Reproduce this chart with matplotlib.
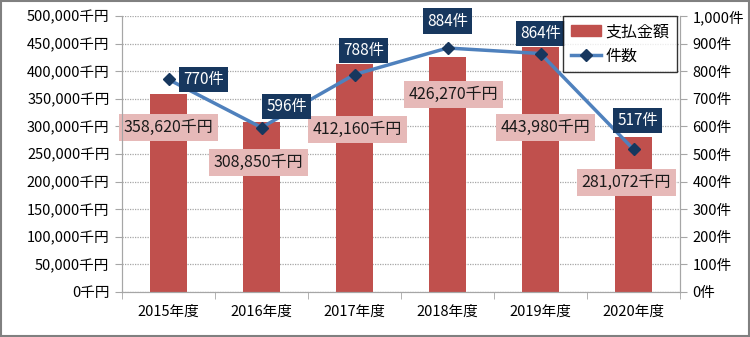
import matplotlib
matplotlib.use("Agg")
import matplotlib.pyplot as plt
from matplotlib.patches import Rectangle
from matplotlib.ticker import FuncFormatter, MultipleLocator

plt.rcParams['font.family'] = ['Noto Sans CJK JP', 'DejaVu Sans']

categories = ["2015年度", "2016年度", "2017年度", "2018年度", "2019年度", "2020年度"]
amounts = [358620, 308850, 412160, 426270, 443980, 281072]   # 千円
counts = [770, 596, 788, 884, 864, 517]                       # 件

# label placement (layout only)
amount_label_y = [298000, 234500, 294500, 358000, 298000, 198000]
amount_label_dx = [0, -3, 3, 6, 5, -7]
count_label_off = [(35, 0), (25, 21), (9, 24), (0, 27), (0, 20), (4, 29)]

BAR = "#C0504D"
LINE = "#4F81BD"
NAVY = "#17375E"
PINK = "#E6B9B8"
GRID = "#A6A6A6"

fig = plt.figure(figsize=(7.5, 3.37), dpi=100)
fig.patches.append(Rectangle((0.0015, 0.003), 0.997, 0.994, transform=fig.transFigure,
                             fill=False, edgecolor="#808080", linewidth=1.5))
ax = fig.add_axes([122/750, 1-292/337, (680-122)/750, (292-16)/337])
ax2 = ax.twinx()

x = list(range(len(categories)))
ax.bar(x, amounts, width=0.4, color=BAR, zorder=2)
ax.set_xlim(-0.5, len(categories)-0.5)
ax.set_ylim(0, 500000)
ax.yaxis.set_major_locator(MultipleLocator(50000))
ax.yaxis.set_major_formatter(FuncFormatter(lambda v, p: f"{int(v):,}千円"))
ax.grid(axis='y', linestyle=(0, (1, 1)), color=GRID, linewidth=0.9, zorder=0)
ax.set_axisbelow(True)
ax.set_xticks(x)
ax.set_xticklabels(categories)
ax.set_xticks([i + 0.5 for i in range(-1, len(categories))], minor=True)
ax.tick_params(axis='x', which='major', length=0, pad=9, labelsize=10.5)
ax.tick_params(axis='x', which='minor', length=5, color=GRID, direction='out')
ax.tick_params(axis='y', length=5, color=GRID, labelsize=10.5, pad=4)

ax2.set_ylim(0, 1000)
ax2.yaxis.set_major_locator(MultipleLocator(100))
ax2.yaxis.set_major_formatter(FuncFormatter(lambda v, p: f"{int(v):,}件"))
ax2.tick_params(axis='y', length=5, color=GRID, labelsize=10.5, pad=4)

for a in (ax, ax2):
    a.spines['top'].set_visible(False)
    for s in ('left', 'right', 'bottom'):
        a.spines[s].set_color(GRID)

line, = ax2.plot(x, counts, color=LINE, linewidth=2.5, marker='D', markersize=6,
                 markerfacecolor=NAVY, markeredgecolor=NAVY, zorder=3)

for i, (v, ly, dx) in enumerate(zip(amounts, amount_label_y, amount_label_dx)):
    ax.annotate(f"{v:,}千円", xy=(i, ly), xytext=(dx, 0), textcoords='offset pixels',
                ha='center', va='center', fontsize=11.5, color='#1a1a1a', zorder=5,
                bbox=dict(boxstyle='square,pad=0.3', facecolor=PINK, edgecolor='none'))

for i, (c, off) in enumerate(zip(counts, count_label_off)):
    ax2.annotate(f"{c}件", xy=(i, c), xytext=off, textcoords='offset pixels',
                 ha='center', va='center', fontsize=11, color='white', zorder=6,
                 bbox=dict(boxstyle='square,pad=0.28', facecolor=NAVY, edgecolor='none'))

bar_handle = Rectangle((0, 0), 1, 1, color=BAR)
leg = ax2.legend([bar_handle, line], ["支払金額", "件数"], loc='upper right',
                 bbox_to_anchor=(677/750, 1-16/337), bbox_transform=fig.transFigure,
                 fontsize=11.5, frameon=True, fancybox=False, edgecolor='black',
                 handlelength=1.9, handleheight=0.6, borderpad=0.45, labelspacing=0.45,
                 handletextpad=0.3, borderaxespad=0)
leg.get_frame().set_linewidth(1.0)
leg.set_zorder(10)

fig.savefig("out.png", dpi=100)
